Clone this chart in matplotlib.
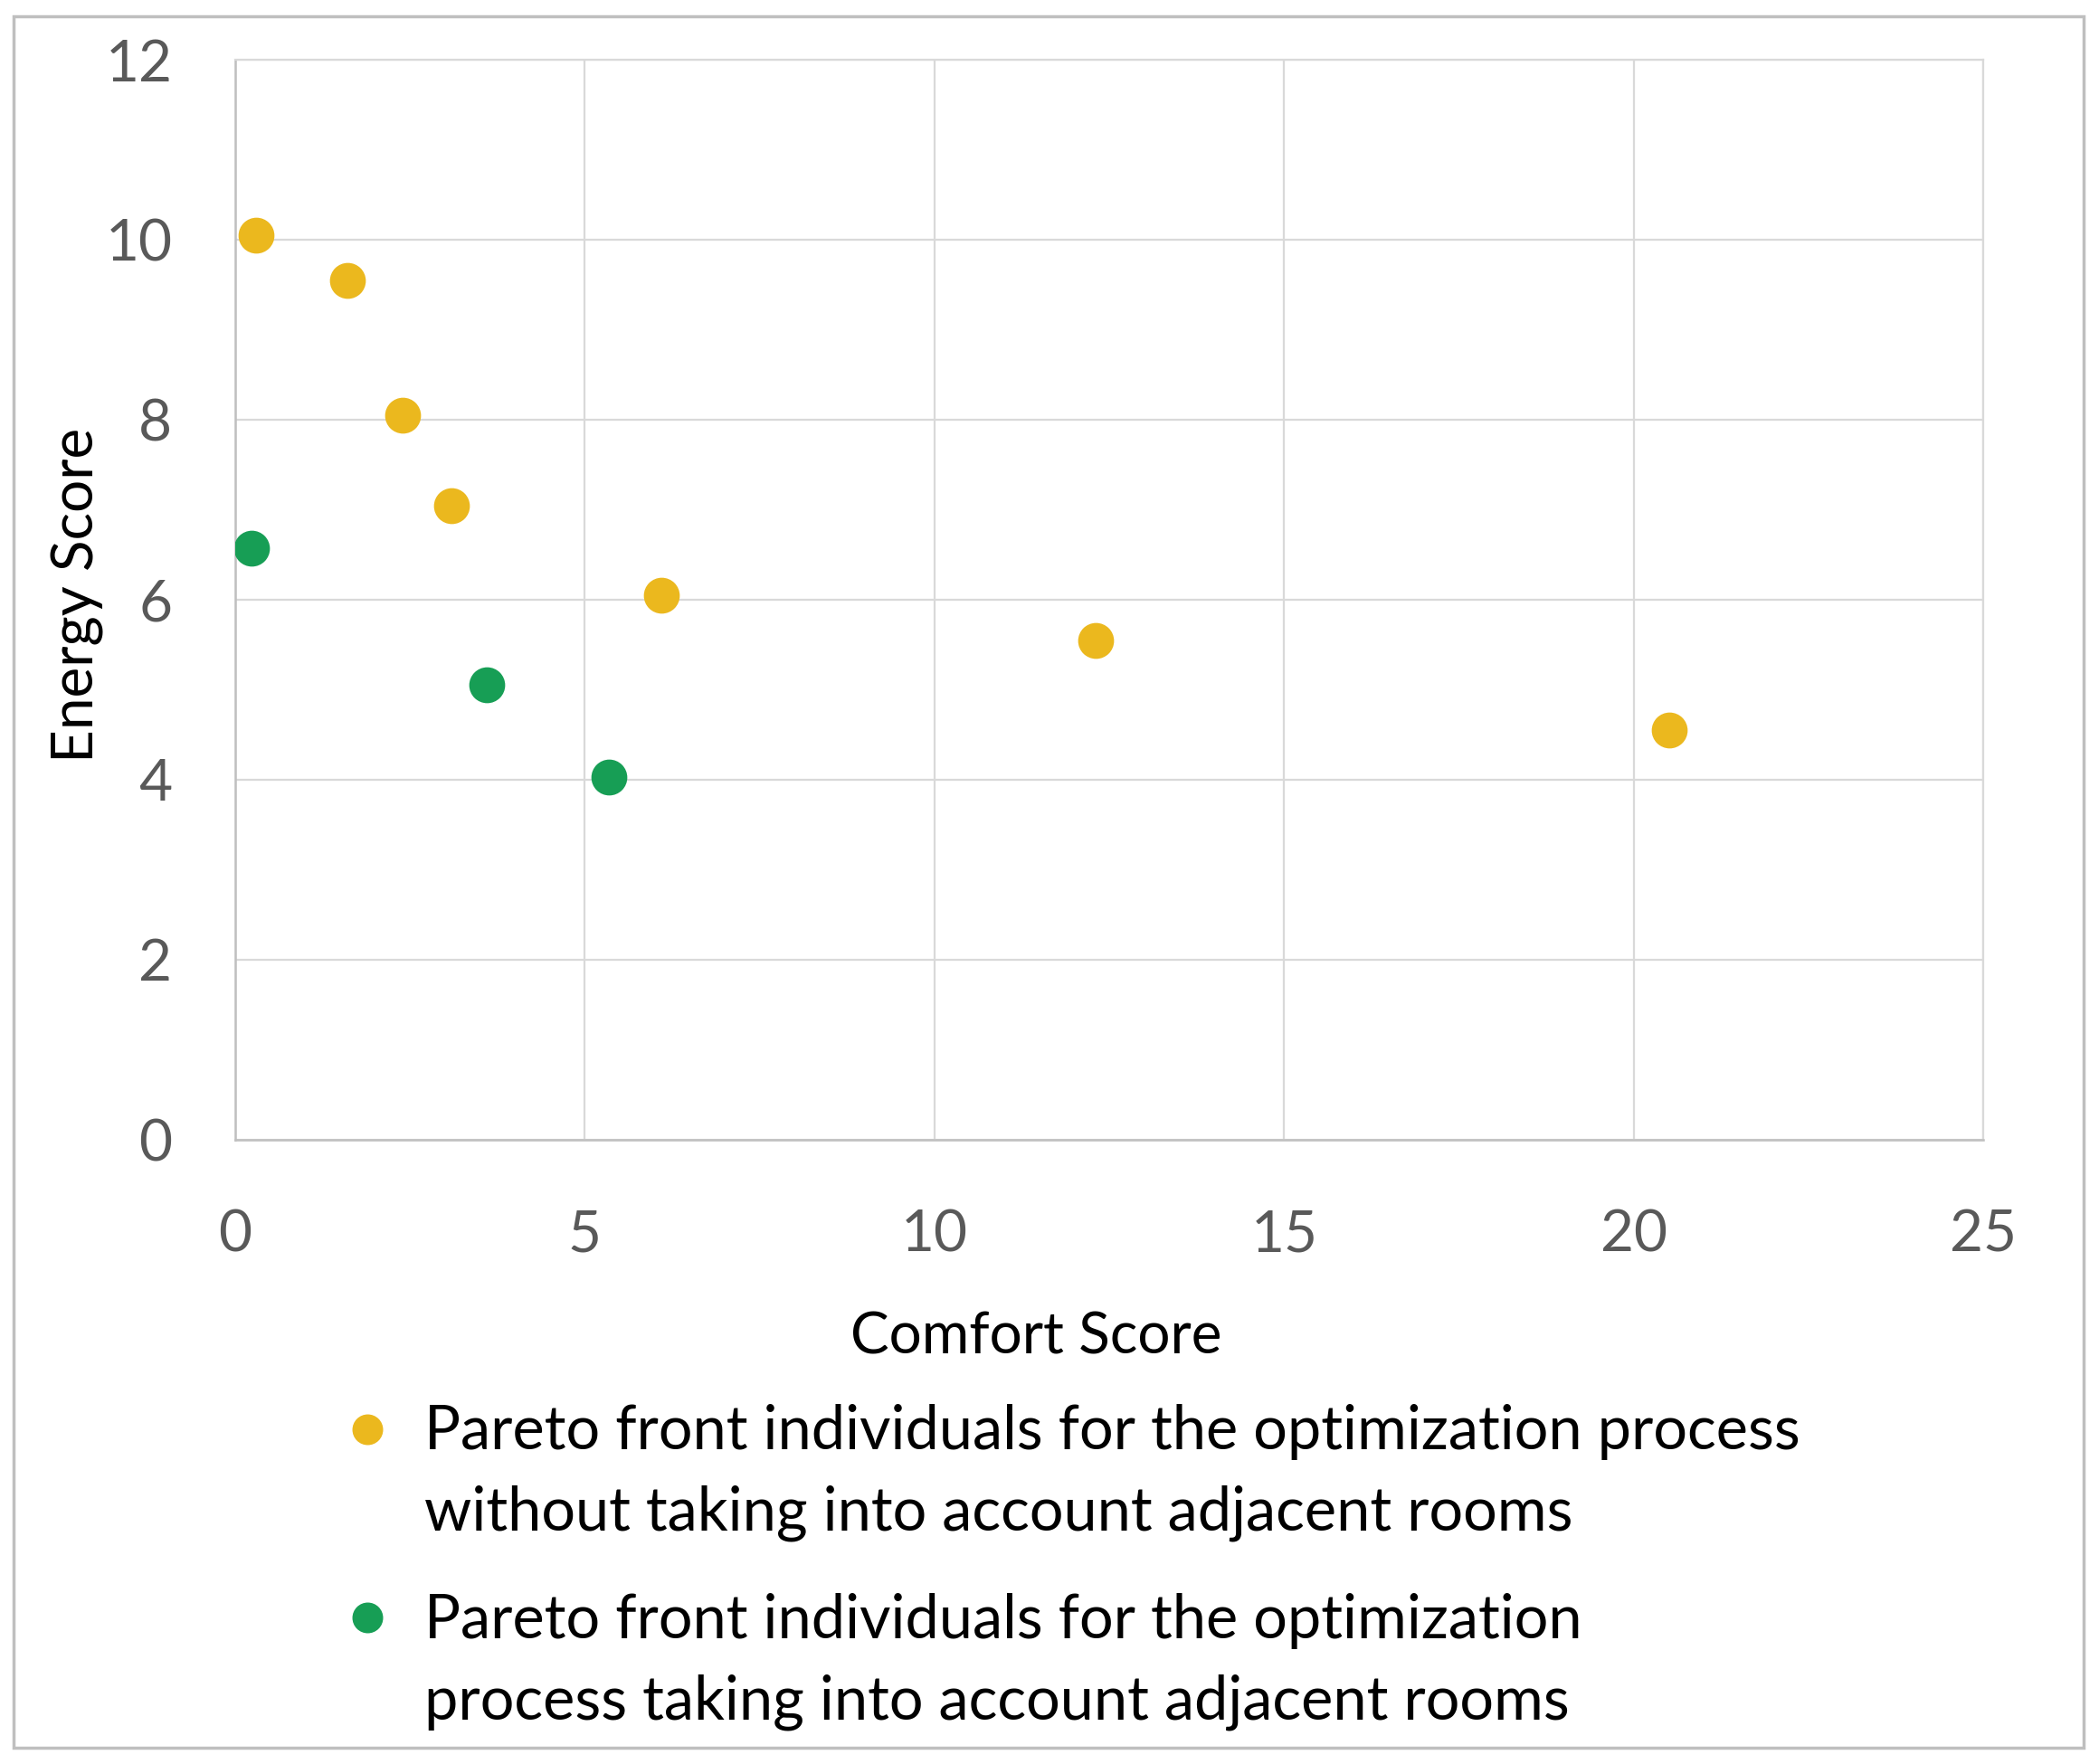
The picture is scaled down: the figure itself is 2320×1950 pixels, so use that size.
import matplotlib
matplotlib.use("Agg")
import matplotlib.pyplot as plt
from matplotlib.patches import Rectangle
from matplotlib.legend_handler import HandlerPathCollection
from matplotlib.collections import PathCollection

# Data
comfort_without = [0.3, 1.6, 2.4, 3.1, 6.1, 12.3, 20.5]
energy_without = [10.05, 9.55, 8.05, 7.05, 6.05, 5.55, 4.55]
comfort_with = [0.23, 3.6, 5.35]
energy_with = [6.57, 5.05, 4.03]

label_without = "Pareto front individuals for the optimization process\nwithout taking into account adjacent rooms"
label_with = "Pareto front individuals for the optimization\nprocess taking into account adjacent rooms"

x_ticks = [0, 5, 10, 15, 20, 25]
y_ticks = [0, 2, 4, 6, 8, 10, 12]

yellow = "#EBB81E"
green = "#179E55"

plt.rcParams['font.family'] = ['Lato', 'DejaVu Sans']

fig = plt.figure(figsize=(23.2, 19.5), dpi=100)
ax = fig.add_axes([0.112, 0.354, 0.833, 0.612])

s1 = ax.scatter(comfort_without, energy_without, s=760, color=yellow, zorder=3, label=label_without)
s2 = ax.scatter(comfort_with, energy_with, s=760, color=green, zorder=3, label=label_with)

ax.set_xlim(0, 25)
ax.set_ylim(0, 12)
ax.set_xticks(x_ticks)
ax.set_yticks(y_ticks)
ax.tick_params(axis='both', length=0, labelsize=46, labelcolor='#595959')
ax.tick_params(axis='x', pad=55)
ax.tick_params(axis='y', pad=50)
ax.grid(True, color='#D9D9D9', linewidth=1.6, zorder=0)
ax.set_axisbelow(True)
for side in ['left', 'bottom']:
    ax.spines[side].set_color('#BFBFBF')
    ax.spines[side].set_linewidth(1.8)
for side in ['top', 'right']:
    ax.spines[side].set_color('#D9D9D9')
    ax.spines[side].set_linewidth(1.6)

ax.set_xlabel('Comfort Score', fontsize=46, color='black')
ax.set_ylabel('Energy Score', fontsize=46, color='black')
ax.xaxis.set_label_coords(0.458, -0.159)
ax.yaxis.set_label_coords(-0.075, 0.504)

# legend markers sit at the first text line
hmap = {PathCollection: HandlerPathCollection(yoffsets=[1.58])}
leg = fig.legend(handles=[s1, s2], loc='upper left', bbox_to_anchor=(0.149, 0.221),
                 frameon=False, fontsize=48, markerscale=0.85, handletextpad=0.55,
                 labelspacing=0.85, handlelength=0.8, borderpad=0, handler_map=hmap)
for t in leg.get_texts():
    t.set_linespacing(1.55)

# outer frame
fig.patches.append(Rectangle((0.0065, 0.0092), 0.986, 0.9815, transform=fig.transFigure,
                             fill=False, edgecolor='#BFBFBF', linewidth=2.5))

fig.savefig('out.png', dpi=100, facecolor='white')
